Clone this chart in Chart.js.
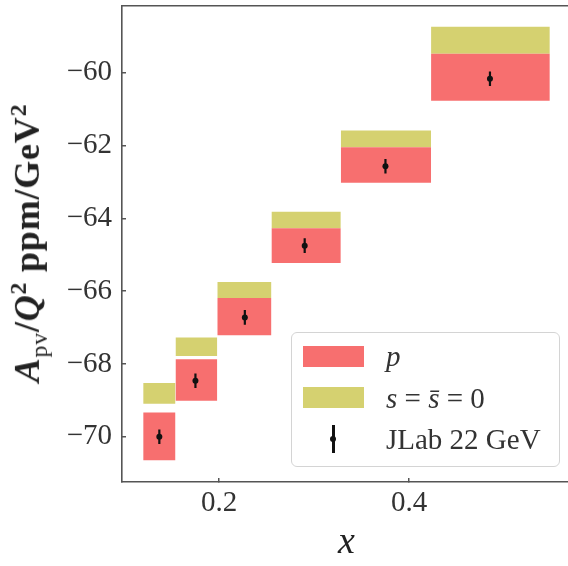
<!DOCTYPE html>
<html>
<head>
<meta charset="utf-8">
<script src="https://cdn.jsdelivr.net/npm/chart.js@4.4.0/dist/chart.umd.min.js"></script>
<style>
  body { margin: 0; width: 568px; height: 566px; overflow: hidden; background: #fff; font-family: 'Liberation Serif', serif; }
  #wrap { position: relative; width: 575px; height: 566px; }
  #ytitle { position: absolute; left: 29px; top: 243px; transform: translate(-50%, -50%) rotate(-90deg);
            white-space: nowrap; font-weight: bold; font-size: 36px; letter-spacing: 0.8px; color: #222; }
  #ytitle sub, #ytitle sup { font-size: 0.66em; }
  #ytitle sub { font-weight: normal; }
  #legend { position: absolute; left: 291px; top: 332px; width: 269px; height: 135px; box-sizing: border-box;
            border: 1.5px solid #d4d4d4; border-radius: 6px; background: rgba(255,255,255,0.85); }
  .patch { position: absolute; left: 11px; width: 61px; height: 21px; }
  .lbl { position: absolute; left: 94px; height: 30px; display: flex; align-items: center;
         font-size: 29px; color: #333; white-space: nowrap; }
  .ebar { position: absolute; left: 40px; top: 92px; width: 2.5px; height: 28px; background: #111; }
  .edot { position: absolute; left: 38px; top: 103px; width: 6px; height: 6px; border-radius: 50%; background: #111; }
</style>
</head>
<body>
<div id="wrap">
  <canvas id="chart" width="575" height="566"></canvas>
  <div id="ytitle"><i>A</i><sub>pv</sub>/<i>Q</i><sup>2</sup> ppm/GeV<sup>2</sup></div>
  <div id="legend">
    <div class="patch" style="top:12.5px;background:#f76f6f"></div>
    <div class="lbl" style="top:8px"><i>p</i></div>
    <div class="patch" style="top:54px;background:#d5d170"></div>
    <div class="lbl" style="top:50px"><i>s</i>&nbsp;=&nbsp;<i>s&#772;</i>&nbsp;=&nbsp;0</div>
    <div class="ebar"></div><div class="edot"></div>
    <div class="lbl" style="top:91px">JLab 22 GeV</div>
  </div>
</div>
<script>
// 数据
const xEdges = [0.120, 0.154, 0.198, 0.255, 0.328, 0.423, 0.548];
const pLow   = [-70.64, -69.01, -67.21, -65.23, -63.02, -60.77];
const pHigh  = [-69.33, -67.87, -66.19, -64.27, -62.05, -59.48];
const s0Low  = [-69.09, -67.78, -66.19, -64.27, -62.05, -59.48];
const s0High = [-68.52, -67.27, -65.75, -63.82, -61.59, -58.74];
const jlabX   = [0.137, 0.175, 0.227, 0.290, 0.375, 0.485];
const jlabY   = [-70.00, -68.46, -66.72, -64.75, -62.57, -60.17];
const jlabErr = [0.2, 0.2, 0.2, 0.2, 0.2, 0.2];
const xTicks = [0.2, 0.4];
const yTicks = [-70, -68, -66, -64, -62, -60];

const axisColor = '#555';
const tickFont = { family: 'Liberation Serif', size: 29 };

// 每个 bin 一个矩形: 上边为线, 填充到下边的值
function boxSets(lo, hi, color) {
    return xEdges.slice(0, -1).map((x0, i) => ({
        data: [{ x: x0, y: hi[i] }, { x: xEdges[i + 1], y: hi[i] }],
        showLine: true,
        borderWidth: 0,
        borderColor: color,
        pointRadius: 0,
        backgroundColor: color,
        fill: { value: lo[i] }
    }));
}

// 误差棒
const barPts = [];
jlabX.forEach((x, i) => {
    barPts.push({ x: x, y: jlabY[i] - jlabErr[i] }, { x: x, y: jlabY[i] + jlabErr[i] }, { x: x, y: null });
});

// 先画的在上层: 数据点放在最前
const ctx = document.getElementById('chart').getContext('2d');
new Chart(ctx, {
    type: 'scatter',
    data: {
        datasets: [
            {
                data: jlabX.map((x, i) => ({ x: x, y: jlabY[i] })),
                pointRadius: 3, pointBackgroundColor: '#111', pointBorderWidth: 0
            },
            {
                data: barPts, showLine: true, spanGaps: false,
                borderColor: '#111', borderWidth: 2.2, pointRadius: 0
            },
            ...boxSets(pLow, pHigh, '#f76f6f'),
            ...boxSets(s0Low, s0High, '#d5d170')
        ]
    },
    options: {
        responsive: false,
        animation: false,
        layout: { padding: { top: 6, left: 0, right: 0, bottom: 0 } },
        plugins: { legend: { display: false }, tooltip: { enabled: false } },
        scales: {
            x: {
                type: 'linear', min: 0.0977, max: 0.5703,
                afterBuildTicks: s => { s.ticks = xTicks.map(v => ({ value: v })); },
                afterFit: s => { s.height = 84; s.paddingLeft = 0; s.paddingRight = 0; },
                ticks: { font: tickFont, color: '#333', padding: 8, maxRotation: 0, autoSkip: false,
                         callback: v => v.toFixed(1) },
                grid: { drawOnChartArea: false, drawTicks: true, tickLength: -4, color: axisColor, lineWidth: 1.5 },
                border: { color: axisColor, width: 1.6 },
                title: { display: true, text: 'x', color: '#222', padding: 0,
                         font: { family: 'Liberation Serif', size: 38, style: 'italic' } }
            },
            x2: {
                type: 'linear', position: 'top',
                afterFit: s => { s.height = 0; s.paddingLeft = 0; s.paddingRight = 0; },
                ticks: { display: false },
                grid: { display: false },
                border: { display: true, color: axisColor, width: 1.6 }
            },
            y: {
                type: 'linear', min: -71.24, max: -58.17,
                afterBuildTicks: s => { s.ticks = yTicks.map(v => ({ value: v })); },
                afterFit: s => { s.width = 122; s.paddingTop = 0; s.paddingBottom = 0; },
                ticks: { font: tickFont, color: '#333', padding: 14,
                         callback: v => (v < 0 ? '\u2212' : '') + Math.abs(v) },
                grid: { drawOnChartArea: false, drawTicks: true, tickLength: -4, color: axisColor, lineWidth: 1.5 },
                border: { color: axisColor, width: 1.6 }
            }
        }
    }
});
</script>
</body>
</html>
